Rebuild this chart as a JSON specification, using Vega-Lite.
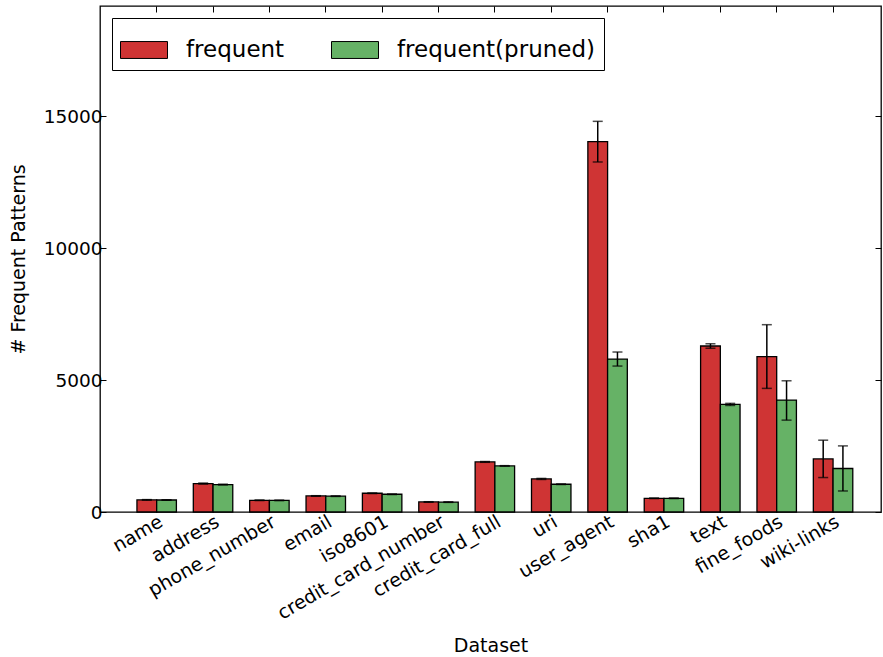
{
  "$schema": "https://vega.github.io/schema/vega-lite/v6.json",
  "autosize": {"type": "none"},
  "padding": {"left": 100, "top": 6, "right": 2, "bottom": 145},
  "width": 781,
  "height": 506,
  "data": {
    "values": [
      {"dataset": "name", "series": "frequent", "value": 460, "lo": 450, "hi": 470},
      {"dataset": "name", "series": "frequent(pruned)", "value": 455, "lo": 445, "hi": 465},
      {"dataset": "address", "series": "frequent", "value": 1078, "lo": 1058, "hi": 1098},
      {"dataset": "address", "series": "frequent(pruned)", "value": 1040, "lo": 1025, "hi": 1055},
      {"dataset": "phone_number", "series": "frequent", "value": 444, "lo": 434, "hi": 454},
      {"dataset": "phone_number", "series": "frequent(pruned)", "value": 440, "lo": 430, "hi": 450},
      {"dataset": "email", "series": "frequent", "value": 608, "lo": 598, "hi": 618},
      {"dataset": "email", "series": "frequent(pruned)", "value": 600, "lo": 590, "hi": 610},
      {"dataset": "iso8601", "series": "frequent", "value": 710, "lo": 700, "hi": 720},
      {"dataset": "iso8601", "series": "frequent(pruned)", "value": 672, "lo": 662, "hi": 682},
      {"dataset": "credit_card_number", "series": "frequent", "value": 380, "lo": 370, "hi": 390},
      {"dataset": "credit_card_number", "series": "frequent(pruned)", "value": 375, "lo": 365, "hi": 385},
      {"dataset": "credit_card_full", "series": "frequent", "value": 1899, "lo": 1884, "hi": 1914},
      {"dataset": "credit_card_full", "series": "frequent(pruned)", "value": 1747, "lo": 1737, "hi": 1757},
      {"dataset": "uri", "series": "frequent", "value": 1253, "lo": 1233, "hi": 1273},
      {"dataset": "uri", "series": "frequent(pruned)", "value": 1052, "lo": 1042, "hi": 1062},
      {"dataset": "user_agent", "series": "frequent", "value": 14037, "lo": 13267, "hi": 14808},
      {"dataset": "user_agent", "series": "frequent(pruned)", "value": 5798, "lo": 5532, "hi": 6064},
      {"dataset": "sha1", "series": "frequent", "value": 520, "lo": 510, "hi": 530},
      {"dataset": "sha1", "series": "frequent(pruned)", "value": 520, "lo": 510, "hi": 530},
      {"dataset": "text", "series": "frequent", "value": 6292, "lo": 6207, "hi": 6377},
      {"dataset": "text", "series": "frequent(pruned)", "value": 4078, "lo": 4038, "hi": 4118},
      {"dataset": "fine_foods", "series": "frequent", "value": 5886, "lo": 4686, "hi": 7100},
      {"dataset": "fine_foods", "series": "frequent(pruned)", "value": 4241, "lo": 3482, "hi": 4974},
      {"dataset": "wiki-links", "series": "frequent", "value": 2012, "lo": 1306, "hi": 2722},
      {"dataset": "wiki-links", "series": "frequent(pruned)", "value": 1648, "lo": 797, "hi": 2506}
    ]
  },
  "layer": [
    {
      "mark": {"type": "bar", "stroke": "black", "strokeWidth": 1.3},
      "encoding": {
        "x": {
          "field": "dataset", "type": "nominal", "sort": null,
          "scale": {"type": "band", "paddingInner": 0.3, "paddingOuter": 0.578, "align": 0.567},
          "axis": {
            "orient": "bottom", "title": "Dataset", "labelAngle": -30, "labelAlign": "right",
            "labelBaseline": "top", "labelPadding": 6, "tickSize": -6, "domain": false,
            "titlePadding": 13, "labelLimit": 400, "labelFontSize": 19
          }
        },
        "xOffset": {
          "field": "series", "type": "nominal",
          "scale": {"domain": ["frequent", "frequent(pruned)"], "paddingInner": 0, "paddingOuter": 0}
        },
        "y": {
          "field": "value", "type": "quantitative",
          "scale": {"domain": [0, 19180], "nice": false, "zero": true},
          "axis": {
            "orient": "left", "title": "# Frequent Patterns", "values": [0, 5000, 10000, 15000],
            "format": "d", "tickSize": -6, "domain": false, "grid": false, "labelPadding": 4,
            "titlePadding": 15
          }
        },
        "color": {
          "field": "series", "type": "nominal",
          "scale": {"domain": ["frequent", "frequent(pruned)"], "range": ["#cf3434", "#66b266"]},
          "legend": {
            "orient": "none", "legendX": 12, "legendY": 12, "direction": "horizontal",
            "title": null, "padding": 8, "strokeColor": "black", "fillColor": "white",
            "cornerRadius": 0, "symbolType": "M-1,-0.36L1,-0.36L1,0.36L-1,0.36Z",
            "symbolSize": 2209, "symbolStrokeColor": "black", "symbolStrokeWidth": 1,
            "labelFontSize": 23, "labelOffset": 18, "columnPadding": 44, "labelLimit": 400
          }
        }
      }
    },
    {
      "mark": {"type": "rule", "color": "black", "strokeWidth": 1.5},
      "encoding": {
        "x": {
          "field": "dataset", "type": "nominal", "sort": null,
          "axis": {"orient": "top", "labels": false, "title": null, "tickSize": -6, "domain": false}
        },
        "xOffset": {"field": "series", "type": "nominal"},
        "y": {
          "field": "lo", "type": "quantitative",
          "axis": {"orient": "right", "labels": false, "title": null, "values": [0, 5000, 10000, 15000], "tickSize": -6, "domain": false, "grid": false}
        },
        "y2": {"field": "hi"}
      }
    },
    {
      "mark": {"type": "tick", "color": "black", "orient": "horizontal", "size": 10, "thickness": 1.5},
      "encoding": {
        "x": {"field": "dataset", "type": "nominal", "sort": null, "axis": null},
        "xOffset": {"field": "series", "type": "nominal"},
        "y": {"field": "lo", "type": "quantitative", "axis": null}
      }
    },
    {
      "mark": {"type": "tick", "color": "black", "orient": "horizontal", "size": 10, "thickness": 1.5},
      "encoding": {
        "x": {"field": "dataset", "type": "nominal", "sort": null, "axis": null},
        "xOffset": {"field": "series", "type": "nominal"},
        "y": {"field": "hi", "type": "quantitative", "axis": null}
      }
    }
  ],
  "resolve": {"axis": {"x": "independent", "y": "independent"}},
  "config": {
    "font": "DejaVu Sans",
    "view": {"stroke": "black", "strokeWidth": 1.3},
    "axis": {
      "labelFont": "DejaVu Sans", "titleFont": "DejaVu Sans", "labelFontSize": 18.5,
      "titleFontSize": 19, "titleFontWeight": "normal", "labelColor": "black",
      "titleColor": "black", "tickColor": "black", "tickWidth": 1, "grid": false
    },
    "legend": {"labelFont": "DejaVu Sans", "labelColor": "black"}
  }
}
